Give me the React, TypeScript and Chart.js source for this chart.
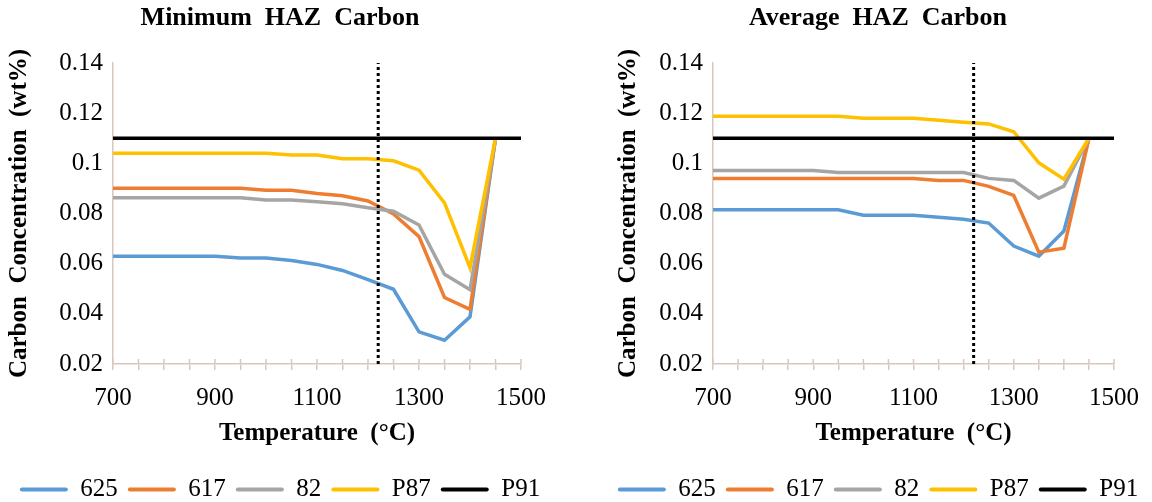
import React, { useEffect, useRef } from "react";
import { Chart, registerables } from "chart.js";

Chart.register(...registerables);

// ---------- data ----------
const temps = [700, 750, 800, 850, 900, 950, 1000, 1050, 1100, 1150, 1200, 1250, 1300, 1350, 1400, 1450];
const seriesNames = ["625", "617", "82", "P87", "P91"];

const min625 = [0.063, 0.063, 0.063, 0.063, 0.063, 0.0623, 0.0623, 0.0613, 0.0597, 0.0573, 0.0536, 0.0498, 0.0328, 0.0295, 0.0388, 0.11];
const min617 = [0.0901, 0.0901, 0.0901, 0.0901, 0.0901, 0.0901, 0.0893, 0.0893, 0.088, 0.0871, 0.085, 0.0798, 0.0708, 0.0465, 0.0418, 0.11];
const min82 = [0.0863, 0.0863, 0.0863, 0.0863, 0.0863, 0.0863, 0.0854, 0.0854, 0.0847, 0.0839, 0.0823, 0.0809, 0.0754, 0.0558, 0.0496, 0.11];
const minP87 = [0.104, 0.104, 0.104, 0.104, 0.104, 0.104, 0.104, 0.1033, 0.1033, 0.1018, 0.1018, 0.101, 0.0973, 0.0842, 0.0584, 0.11];

const avg625 = [0.0815, 0.0815, 0.0815, 0.0815, 0.0815, 0.0815, 0.0793, 0.0793, 0.0793, 0.0785, 0.0777, 0.0762, 0.067, 0.063, 0.073, 0.11];
const avg617 = [0.094, 0.094, 0.094, 0.094, 0.094, 0.094, 0.094, 0.094, 0.094, 0.0932, 0.0932, 0.0908, 0.0872, 0.0646, 0.0662, 0.11];
const avg82 = [0.0971, 0.0971, 0.0971, 0.0971, 0.0971, 0.0963, 0.0963, 0.0963, 0.0963, 0.0963, 0.0963, 0.094, 0.0932, 0.0861, 0.0909, 0.11];
const avgP87 = [0.1188, 0.1188, 0.1188, 0.1188, 0.1188, 0.1188, 0.118, 0.118, 0.118, 0.1172, 0.1164, 0.1157, 0.1126, 0.1002, 0.0937, 0.11];

const p91Temps = [700, 1500];
const p91Values = [0.11, 0.11];

const markerTemps = [1220, 1220];
const markerValues = [0.02, 0.14];

const xMin = 700;
const xMax = 1500;
const xStep = 50;
const xLabelStep = 200;
const yMin = 0.02;
const yMax = 0.14;
const yStep = 0.02;

const titles = ["Minimum  HAZ  Carbon", "Average  HAZ  Carbon"];
const xTitle = "Temperature  (°C)";
const yTitle = "Carbon  Concentration  (wt%)";

// ---------- styles ----------
const colors = ["#5B9BD5", "#ED7D31", "#A5A5A5", "#FFC000", "#000000"];
const AXIS = "#D9C7BF";
const FONT = "'Liberation Serif', 'Times New Roman', serif";

type PanelProps = {
  title: string;
  series: number[][];
  left: number;
  width: number;
  padLeft: number;
  padRight: number;
  yScaleWidth: number;
  y2ScaleWidth: number;
  yTitlePad: number;
};

const innerTicks = {
  id: "innerTicks",
  beforeDatasetsDraw(chart: any) {
    const xs = chart.scales.x;
    const ctx = chart.ctx;
    const bottom = chart.chartArea.bottom;
    ctx.save();
    ctx.strokeStyle = AXIS;
    ctx.lineWidth = 1.5;
    xs.ticks.forEach((t: any) => {
      const px = xs.getPixelForValue(t.value);
      ctx.beginPath();
      ctx.moveTo(px, bottom - 5);
      ctx.lineTo(px, bottom);
      ctx.stroke();
    });
    ctx.restore();
  },
};

function Panel(props: PanelProps) {
  const ref = useRef<HTMLCanvasElement | null>(null);
  useEffect(() => {
    if (!ref.current) return;
    const datasets: any[] = props.series.map((vals, i) => ({
      label: seriesNames[i],
      data: temps.map((t, j) => ({ x: t, y: vals[j] })),
      borderColor: colors[i],
      backgroundColor: colors[i],
      borderWidth: 3.5,
      pointRadius: 0,
      tension: 0,
      order: 10 - i,
    }));
    datasets.push({
      label: seriesNames[4],
      data: p91Temps.map((t, j) => ({ x: t, y: p91Values[j] })),
      borderColor: colors[4],
      backgroundColor: colors[4],
      borderWidth: 3.5,
      pointRadius: 0,
      order: 2,
    });
    datasets.push({
      label: "marker",
      data: markerTemps.map((t, j) => ({ x: t, y: markerValues[j] })),
      borderColor: "#000000",
      borderWidth: 3,
      borderDash: [3, 3],
      pointRadius: 0,
      order: 0,
      clip: false,
    });

    const chart = new Chart(ref.current, {
      type: "line",
      data: { datasets },
      options: {
        responsive: false,
        animation: false,
        devicePixelRatio: 1,
        layout: { padding: { left: props.padLeft, right: props.padRight, top: 0, bottom: -10 } },
        plugins: {
          title: {
            display: true,
            text: props.title,
            color: "#000",
            font: { family: FONT, size: 26, weight: "bold" },
            padding: { top: 2.4, bottom: 29.4 },
          },
          legend: {
            position: "bottom",
            labels: {
              color: "#000",
              font: { family: FONT, size: 25 },
              boxWidth: 48,
              boxHeight: 4,
              padding: 10,
              useBorderRadius: true,
              borderRadius: 2,
              generateLabels: () =>
                seriesNames.map((n, i) => ({
                  text: n,
                  fillStyle: colors[i],
                  strokeStyle: colors[i],
                  lineWidth: 0,
                  hidden: false,
                  datasetIndex: i,
                  fontColor: "#000",
                  borderRadius: 2,
                })),
            },
          },
          tooltip: { enabled: false },
        },
        scales: {
          x: {
            type: "linear",
            min: xMin,
            max: xMax,
            afterFit: (s: any) => {
              s.height = 103;
            },
            border: { color: AXIS, width: 1.5 },
            grid: { drawOnChartArea: false, drawTicks: true, tickLength: 6, color: AXIS, lineWidth: 1.5 },
            ticks: {
              stepSize: xStep,
              autoSkip: false,
              maxRotation: 0,
              padding: 13,
              color: "#000",
              font: { family: FONT, size: 25 },
              callback: (v: any) => ((Number(v) - xMin) % xLabelStep === 0 ? String(v) : ""),
            },
            title: {
              display: true,
              text: xTitle,
              color: "#000",
              font: { family: FONT, size: 25, weight: "bold" },
              padding: { top: 0, bottom: 18 },
            },
          },
          y: {
            min: yMin,
            max: yMax,
            afterFit: (s: any) => {
              s.width = props.yScaleWidth;
            },
            border: { color: AXIS, width: 1.5 },
            grid: { drawOnChartArea: false, drawTicks: false },
            ticks: {
              stepSize: yStep,
              padding: 10,
              color: "#000",
              font: { family: FONT, size: 25 },
              callback: (v: any) => String(Number(Number(v).toFixed(2))),
            },
            title: {
              display: true,
              text: yTitle,
              color: "#000",
              font: { family: FONT, size: 25, weight: "bold" },
              padding: { top: props.yTitlePad, bottom: 0 },
            },
          },
          yRight: {
            position: "right",
            display: true,
            min: yMin,
            max: yMax,
            afterFit: (s: any) => {
              s.width = props.y2ScaleWidth;
            },
            border: { display: false },
            grid: { display: false, drawTicks: false },
            ticks: { display: false },
          },
        },
      } as any,
      plugins: [innerTicks],
    });
    return () => chart.destroy();
  }, []);

  return (
    <canvas
      ref={ref}
      width={props.width}
      height={502}
      style={{ position: "absolute", left: props.left, top: 0, width: props.width, height: 502 }}
    />
  );
}

export default function App() {
  return (
    <div style={{ position: "fixed", left: 0, top: 0, width: 1152, height: 502, background: "#fff", overflow: "hidden" }}>
      <Panel
        title={titles[0]}
        series={[min625, min617, min82, minP87]}
        left={0}
        width={560}
        padLeft={0}
        padRight={0}
        yScaleWidth={113}
        y2ScaleWidth={39}
        yTitlePad={5}
      />
      <Panel
        title={titles[1]}
        series={[avg625, avg617, avg82, avgP87]}
        left={576}
        width={576}
        padLeft={28}
        padRight={0}
        yScaleWidth={109}
        y2ScaleWidth={31}
        yTitlePad={10}
      />
    </div>
  );
}
